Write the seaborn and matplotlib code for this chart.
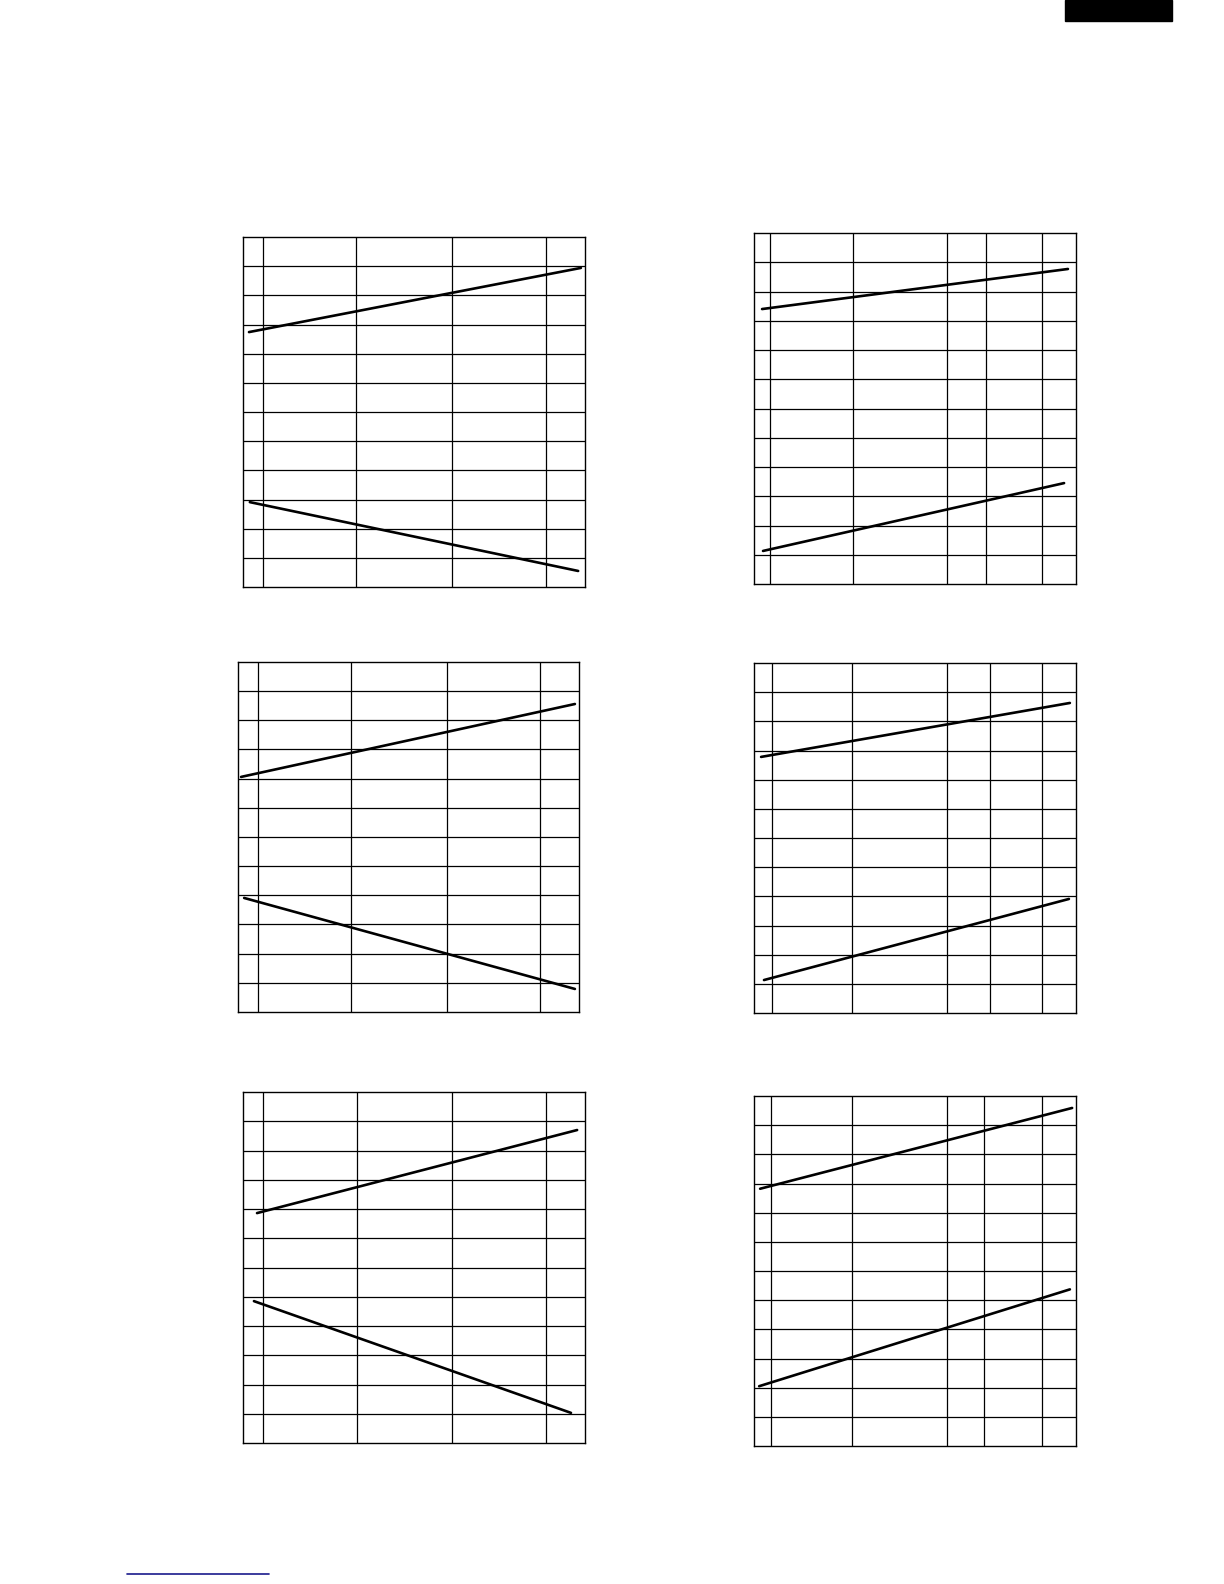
import matplotlib
matplotlib.use("Agg")
import matplotlib.pyplot as plt
import matplotlib.lines as mlines
import matplotlib.patches as mpatches
import seaborn as sns
import pandas as pd

# column boundaries of each grid panel (percent of panel width)
cols_left = [[5.8, 33.0, 61.1, 88.6], [5.9, 33.1, 61.3, 88.6], [5.8, 33.3, 61.1, 88.6]]
cols_right = [[5.0, 30.7, 59.9, 72.0, 89.4], [5.6, 30.4, 59.9, 73.3, 89.4], [5.3, 30.4, 59.9, 71.4, 89.4]]
n_rows = 12

# line end points per panel, (x0, x1) and (y0, y1) in grid units
upper_x = [[1.75, 98.8], [2.5, 97.5], [0.9, 98.8], [2.2, 98.1], [4.1, 97.7], [1.9, 98.8]]
upper_y = [[8.74, 10.94], [9.40, 10.77], [8.06, 10.56], [8.78, 10.63], [7.86, 10.70], [8.82, 11.59]]
lower_x = [[2.0, 98.0], [2.8, 96.3], [1.8, 98.8], [3.1, 97.8], [3.2, 95.9], [1.6, 98.1]]
lower_y = [[2.91, 0.55], [1.13, 3.45], [3.91, 0.79], [1.13, 3.91], [4.85, 1.03], [2.05, 5.37]]

panel_cols = [cols_left[0], cols_right[0], cols_left[1], cols_right[1], cols_left[2], cols_right[2]]

rows = []
for i in range(6):
    for name, xs, ys in [("upper", upper_x[i], upper_y[i]), ("lower", lower_x[i], lower_y[i])]:
        for x, y in zip(xs, ys):
            rows.append({"panel": i, "series": name, "x": x, "y": y})
df = pd.DataFrame(rows)

sns.set_style("white")
W, H = 1224, 1584
fig = plt.figure(figsize=(W / 100, H / 100), dpi=100)

# panel boxes in pixels: left, top, right, bottom
boxes = [(243, 237, 585, 587), (754, 233, 1076, 584),
         (238, 662, 579, 1012), (754, 663, 1076, 1013),
         (243, 1092, 585, 1443), (754, 1096, 1076, 1446)]

for i, (l, t, r, b) in enumerate(boxes):
    ax = fig.add_axes([l / W, 1 - b / H, (r - l) / W, (b - t) / H])
    sns.lineplot(data=df[df["panel"] == i], x="x", y="y", units="series",
                 estimator=None, color="black", linewidth=1.9, ax=ax)
    ax.set_xlim(0, 100)
    ax.set_ylim(0, n_rows)
    ax.set_xticks(panel_cols[i])
    ax.set_yticks(range(1, n_rows))
    ax.grid(True, color="black", linewidth=0.9)
    ax.tick_params(length=0, labelbottom=False, labelleft=False)
    ax.set_xlabel("")
    ax.set_ylabel("")
    for s in ax.spines.values():
        s.set_color("black")
        s.set_linewidth(1.0)
    if ax.get_legend():
        ax.get_legend().remove()

# black tab at the top right and blue rule at the bottom
fig.patches.append(mpatches.Rectangle((1065 / W, 1 - 21 / H), 107 / W, 21 / H,
                                      transform=fig.transFigure, color="black"))
fig.lines.append(mlines.Line2D([127 / W, 269 / W], [1 - 1574 / H, 1 - 1574 / H],
                               transform=fig.transFigure, color="#1a1a8c", linewidth=1.2))

fig.savefig("out.png", dpi=100)
